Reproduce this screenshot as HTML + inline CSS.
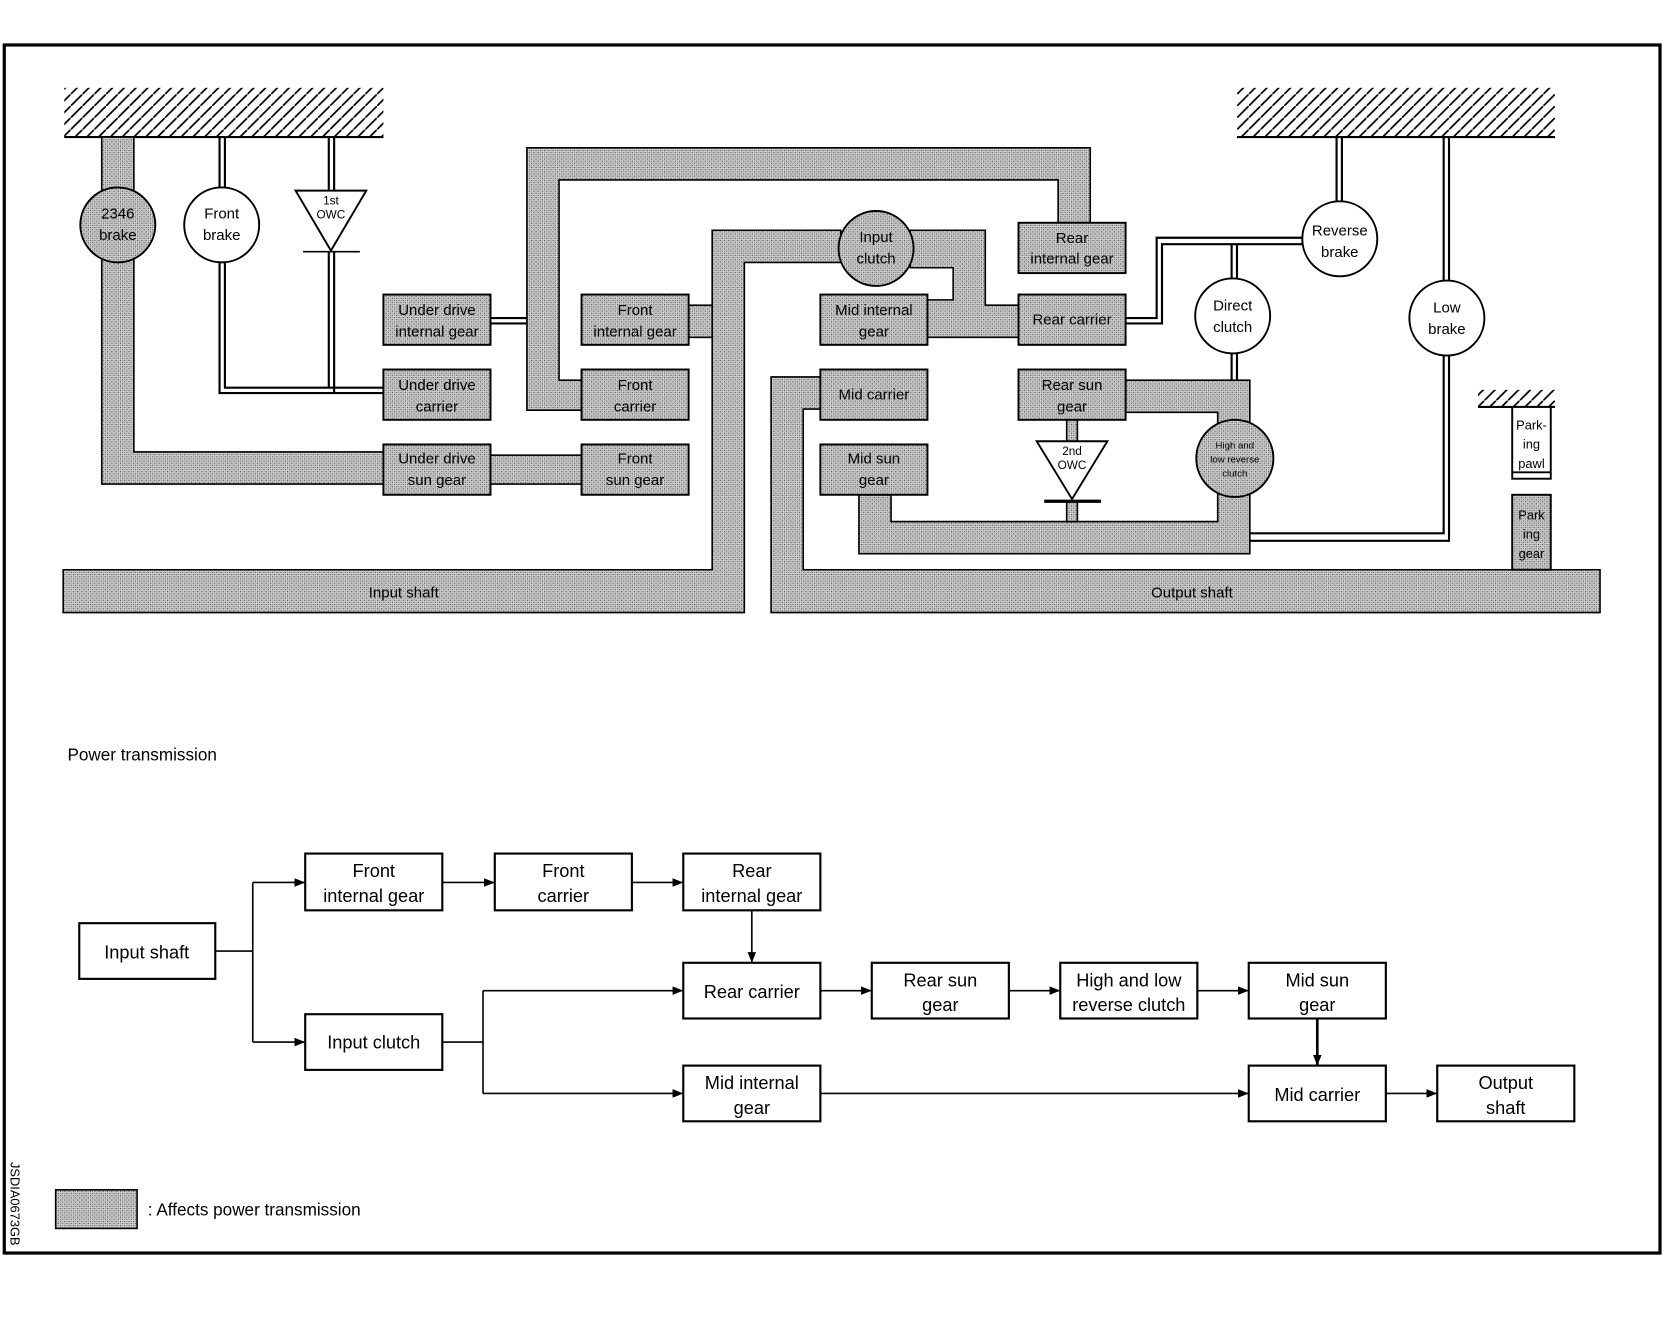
<!DOCTYPE html>
<html><head><meta charset="utf-8"><style>
html,body{margin:0;padding:0;background:#fff}
svg{display:block}
text{font-family:"Liberation Sans",sans-serif;fill:#000}
</style></head><body>
<svg width="1680" height="1328" viewBox="0 0 1568 1240" preserveAspectRatio="xMinYMin meet" xmlns="http://www.w3.org/2000/svg">
<defs>
<pattern id="g" width="4" height="4" patternUnits="userSpaceOnUse">
<rect width="4" height="4" fill="#cfcfcf"/>
<rect x="0" y="0" width="1" height="1" fill="#444"/><rect x="2" y="2" width="1" height="1" fill="#444"/>
<rect x="2" y="0" width="1" height="1" fill="#888"/><rect x="0" y="2" width="1" height="1" fill="#888"/>
</pattern>
<pattern id="h" width="11" height="11" patternUnits="userSpaceOnUse">
<line x1="-1" y1="12" x2="12" y2="-1" stroke="#000" stroke-width="1.6"/>
</pattern>
<marker id="a" markerWidth="10" markerHeight="8" refX="10" refY="4" orient="auto" markerUnits="userSpaceOnUse">
<path d="M0,0 L10,4 L0,8 Z" fill="#000"/></marker>
</defs>
<rect x="4" y="42" width="1546" height="1128" fill="none" stroke="#000" stroke-width="3"/>

<rect x="60" y="82" width="298" height="46" fill="url(#h)"/>
<line x1="60" y1="128" x2="358" y2="128" stroke="#000" stroke-width="2"/>
<rect x="1155" y="82" width="297" height="46" fill="url(#h)"/>
<line x1="1155" y1="128" x2="1452" y2="128" stroke="#000" stroke-width="2"/>
<rect x="1380" y="364" width="72" height="16" fill="url(#h)"/>
<line x1="1380" y1="380" x2="1452" y2="380" stroke="#000" stroke-width="2"/>

<g stroke="#000" stroke-width="1.5">
<polygon fill="url(#g)" points="95,128 125,128 125,422 358,422 358,452 95,452"/>
<rect x="458" y="425" width="85" height="27" fill="url(#g)"/>
<polygon fill="url(#g)" points="492,138 1018,138 1018,208 988,208 988,168 522,168 522,355 543,355 543,383 492,383"/>
<polygon fill="url(#g)" points="59,532 665,532 665,215 785,215 785,245 695,245 695,572 59,572"/>
<rect x="643" y="285" width="22" height="30" fill="url(#g)"/>
<polygon fill="url(#g)" points="850,215 920,215 920,285 951,285 951,315 866,315 866,280 890,280 890,250 850,250"/>
<polygon fill="url(#g)" points="1051,355 1167,355 1167,517 802,517 802,462 832,462 832,487 1137,487 1137,385 1051,385"/>
<rect x="996" y="392" width="10" height="20" fill="url(#g)"/>
<rect x="996" y="468" width="10" height="19" fill="url(#g)"/>
<polygon fill="url(#g)" points="720,352 766,352 766,382 750,382 750,532 1494,532 1494,572 720,572"/>
</g>

<g fill="none" stroke="#000" stroke-width="2">
<path d="M205,128V175M210,128V175M205,245V367H358M210,245V362H358"/>
<path d="M307,128V178M312,128V178M307,235V362M312,235V367"/>
<path d="M458,297H492M458,302H492"/>
<path d="M1051,297H1080V222H1216M1051,302H1085V228H1216"/>
<path d="M1150,228V265M1155,228V265M1150,330V355M1155,330V355"/>
<path d="M1248,128V188M1253,128V188"/>
<path d="M1348,128V262M1353,128V262M1348,332V498H1167M1353,332V505H1167"/>
<line x1="283" y1="235" x2="336" y2="235" stroke-width="1.5"/>
<line x1="975" y1="468" x2="1028" y2="468" stroke-width="3"/>
</g>

<g stroke="#000" stroke-width="1.8">
<circle cx="110" cy="210" r="35" fill="url(#g)"/>
<circle cx="207" cy="210" r="35" fill="#fff"/>
<polygon points="276,178 342,178 309,234" fill="#fff"/>
<circle cx="818" cy="232" r="35" fill="url(#g)"/>
<circle cx="1251" cy="223" r="35" fill="#fff"/>
<circle cx="1151" cy="295" r="35" fill="#fff"/>
<circle cx="1351" cy="297" r="35" fill="#fff"/>
<circle cx="1153" cy="428" r="36" fill="url(#g)"/>
<polygon points="968,412 1034,412 1001,466" fill="#fff"/>
<rect x="358" y="275" width="100" height="47" fill="url(#g)"/>
<rect x="358" y="345" width="100" height="47" fill="url(#g)"/>
<rect x="358" y="415" width="100" height="47" fill="url(#g)"/>
<rect x="543" y="275" width="100" height="47" fill="url(#g)"/>
<rect x="543" y="345" width="100" height="47" fill="url(#g)"/>
<rect x="543" y="415" width="100" height="47" fill="url(#g)"/>
<rect x="766" y="275" width="100" height="47" fill="url(#g)"/>
<rect x="766" y="345" width="100" height="47" fill="url(#g)"/>
<rect x="766" y="415" width="100" height="47" fill="url(#g)"/>
<rect x="951" y="208" width="100" height="47" fill="url(#g)"/>
<rect x="951" y="275" width="100" height="47" fill="url(#g)"/>
<rect x="951" y="345" width="100" height="47" fill="url(#g)"/>
<rect x="1412" y="380" width="36" height="67" fill="#fff"/>
<line x1="1412" y1="441" x2="1448" y2="441"/>
<rect x="1412" y="462" width="36" height="70" fill="url(#g)"/>
</g>

<g font-size="14" text-anchor="middle">
<text x="110" y="204">2346</text><text x="110" y="224">brake</text>
<text x="207" y="204">Front</text><text x="207" y="224">brake</text>
<text x="309" y="191" font-size="11">1st</text><text x="309" y="204" font-size="11">OWC</text>
<text x="408" y="294">Under drive</text><text x="408" y="314">internal gear</text>
<text x="408" y="364">Under drive</text><text x="408" y="384">carrier</text>
<text x="408" y="433">Under drive</text><text x="408" y="453">sun gear</text>
<text x="593" y="294">Front</text><text x="593" y="314">internal gear</text>
<text x="593" y="364">Front</text><text x="593" y="384">carrier</text>
<text x="593" y="433">Front</text><text x="593" y="453">sun gear</text>
<text x="818" y="226">Input</text><text x="818" y="246">clutch</text>
<text x="816" y="294">Mid internal</text><text x="816" y="314">gear</text>
<text x="816" y="373">Mid carrier</text>
<text x="816" y="433">Mid sun</text><text x="816" y="453">gear</text>
<text x="1001" y="227">Rear</text><text x="1001" y="246">internal gear</text>
<text x="1001" y="303">Rear carrier</text>
<text x="1001" y="364">Rear sun</text><text x="1001" y="384">gear</text>
<text x="1001" y="425" font-size="11">2nd</text><text x="1001" y="438" font-size="11">OWC</text>
<text x="1153" y="419" font-size="9">High and</text><text x="1153" y="432" font-size="9">low reverse</text><text x="1153" y="445" font-size="9">clutch</text>
<text x="1251" y="220">Reverse</text><text x="1251" y="240">brake</text>
<text x="1151" y="290">Direct</text><text x="1151" y="310">clutch</text>
<text x="1351" y="292">Low</text><text x="1351" y="312">brake</text>
<text x="1430" y="401" font-size="12">Park-</text><text x="1430" y="419" font-size="12">ing</text><text x="1430" y="437" font-size="12">pawl</text>
<text x="1430" y="485" font-size="12">Park</text><text x="1430" y="503" font-size="12">ing</text><text x="1430" y="521" font-size="12">gear</text>
<text x="377" y="558">Input shaft</text>
<text x="1113" y="558">Output shaft</text>
</g>

<text x="63" y="710" font-size="16">Power transmission</text>

<g fill="#fff" stroke="#000" stroke-width="2">
<rect x="74" y="862" width="127" height="52"/>
<rect x="285" y="797" width="128" height="53"/>
<rect x="462" y="797" width="128" height="53"/>
<rect x="638" y="797" width="128" height="53"/>
<rect x="285" y="947" width="128" height="52"/>
<rect x="638" y="899" width="128" height="52"/>
<rect x="814" y="899" width="128" height="52"/>
<rect x="990" y="899" width="128" height="52"/>
<rect x="1166" y="899" width="128" height="52"/>
<rect x="638" y="995" width="128" height="52"/>
<rect x="1166" y="995" width="128" height="52"/>
<rect x="1342" y="995" width="128" height="52"/>
</g>
<g fill="none" stroke="#000" stroke-width="1.5">
<path d="M201,888H236M236,824V973"/>
<path d="M236,824H285" marker-end="url(#a)"/>
<path d="M236,973H285" marker-end="url(#a)"/>
<path d="M413,824H462" marker-end="url(#a)"/>
<path d="M590,824H638" marker-end="url(#a)"/>
<path d="M702,850V899" marker-end="url(#a)"/>
<path d="M413,973H451M451,925V1021"/>
<path d="M451,925H638" marker-end="url(#a)"/>
<path d="M451,1021H638" marker-end="url(#a)"/>
<path d="M766,925H814" marker-end="url(#a)"/>
<path d="M942,925H990" marker-end="url(#a)"/>
<path d="M1118,925H1166" marker-end="url(#a)"/>
<path d="M1230,951V995" marker-end="url(#a)" stroke-width="2.5"/>
<path d="M766,1021H1166" marker-end="url(#a)"/>
<path d="M1294,1021H1342" marker-end="url(#a)"/>
</g>
<g font-size="17" text-anchor="middle">
<text x="137" y="895">Input shaft</text>
<text x="349" y="819">Front</text><text x="349" y="842">internal gear</text>
<text x="526" y="819">Front</text><text x="526" y="842">carrier</text>
<text x="702" y="819">Rear</text><text x="702" y="842">internal gear</text>
<text x="349" y="979">Input clutch</text>
<text x="702" y="932">Rear carrier</text>
<text x="878" y="921">Rear sun</text><text x="878" y="944">gear</text>
<text x="1054" y="921">High and low</text><text x="1054" y="944">reverse clutch</text>
<text x="1230" y="921">Mid sun</text><text x="1230" y="944">gear</text>
<text x="702" y="1017">Mid internal</text><text x="702" y="1040">gear</text>
<text x="1230" y="1028">Mid carrier</text>
<text x="1406" y="1017">Output</text><text x="1406" y="1040">shaft</text>
</g>

<rect x="52" y="1111" width="76" height="36" fill="url(#g)" stroke="#000" stroke-width="1.5"/>
<text x="138" y="1135" font-size="16">: Affects power transmission</text>
<text transform="translate(10,1085) rotate(90)" font-size="12">JSDIA0673GB</text>
</svg>
</body></html>
